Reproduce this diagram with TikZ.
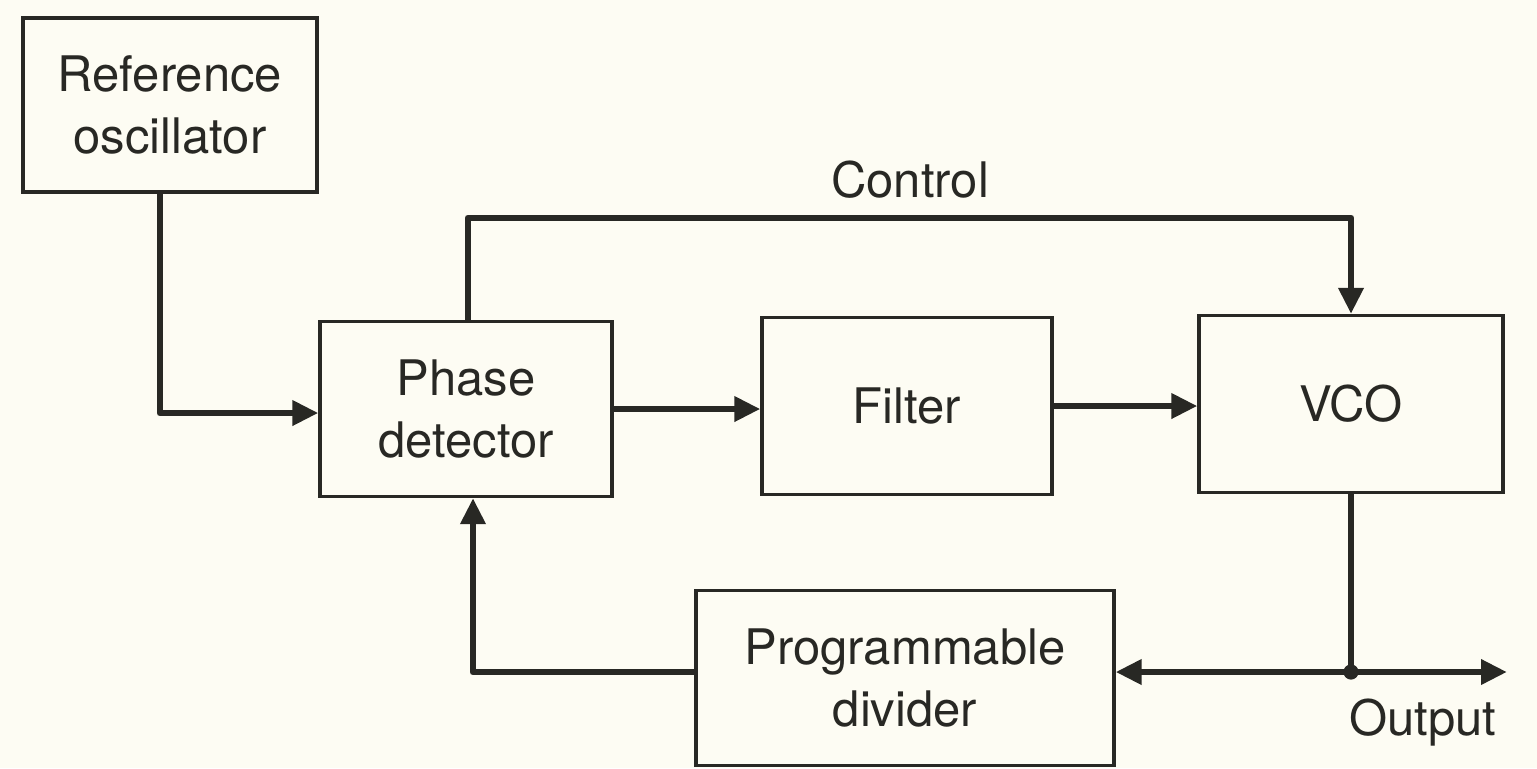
\documentclass[tikz,border=0pt]{standalone}
\usepackage{fontspec}
\setmainfont{TeX Gyre Heros}
\usetikzlibrary{arrows.meta}
\definecolor{paper}{RGB}{253,252,243}
\definecolor{ink}{RGB}{40,40,36}
\tikzset{
  blk/.style={draw=ink, line width=1.6pt, fill=paper, align=center, inner sep=0pt,
    font=\fontsize{24.5}{31}\selectfont, text=ink},
  wire/.style={draw=ink, line width=3.4pt, line join=round},
  conn/.style={wire, -{Triangle[length=13pt,width=12pt]}},
  lbl/.style={font=\fontsize{24.5}{31}\selectfont, text=ink, inner sep=0pt},
}
\begin{document}
\begin{tikzpicture}[x=0.5pt,y=-0.5pt]
\fill[paper] (0,0) rectangle (1537,768);
\useasboundingbox (0,0) rectangle (1537,768);
\node[blk, minimum width=147pt, minimum height=87pt] (ref) at (170,105) {Reference\\oscillator};
\node[blk, minimum width=146pt, minimum height=87.5pt] (pd) at (466,409) {Phase\\detector};
\node[blk, minimum width=145pt, minimum height=88.5pt] (filt) at (907,406) {Filter};
\node[blk, minimum width=152pt, minimum height=88.5pt] (vco) at (1351,404) {VCO};
\node[blk, minimum width=209pt, minimum height=87.5pt] (div) at (905,678) {Programmable\\divider};
\node[lbl] (ctl) at (910,180) {Control};
\node[lbl] (outl) at (1423,723) {Output};
\coordinate (c1) at (468,218);
\coordinate (j) at (1351,672);
\coordinate (out) at (1507,672);
\coordinate (fb) at (473,672);
% reference -> phase detector
\draw[conn] ([xshift=-5pt]ref.south) |- ([yshift=-2pt]pd.west);
% control path
\draw[conn] (c1 |- pd.north) -- (c1) -| (vco.north);
% main chain
\draw[conn] (pd.east) -- (pd.east -| filt.west);
\draw[conn] (filt.east) -- (filt.east -| vco.west);
% output
\draw[wire] (vco.south) -- (j);
\draw[conn] (j) -- (out);
\draw[conn] (j) -- (div.east |- j);
\fill[ink] (j) circle (3.8pt);
% feedback
\draw[conn] (div.west |- j) -- (fb) -- (fb |- pd.south);
\end{tikzpicture}
\end{document}
